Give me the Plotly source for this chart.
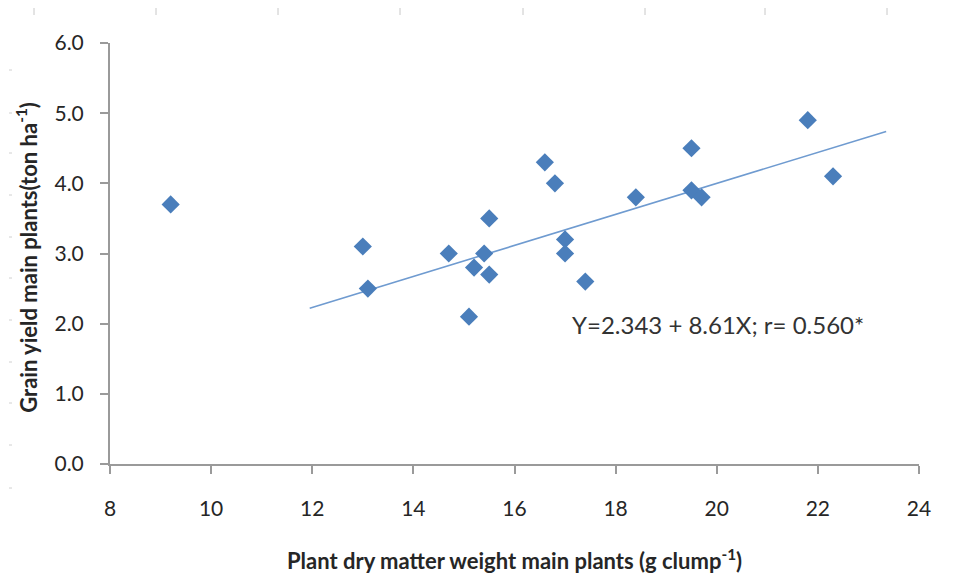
import plotly.graph_objects as go

# Data
dry_matter = [9.2, 13.0, 13.1, 14.7, 15.1, 15.2, 15.4, 15.5, 15.5, 16.6,
              16.8, 17.0, 17.0, 17.4, 18.4, 19.5, 19.5, 19.7, 21.8, 22.3]
grain_yield = [3.7, 3.1, 2.5, 3.0, 2.1, 2.8, 3.0, 2.7, 3.5, 4.3,
               4.0, 3.2, 3.0, 2.6, 3.8, 4.5, 3.9, 3.8, 4.9, 4.1]
trend_x = [11.95, 23.35]
trend_y = [2.22, 4.74]
x_ticks = [8, 10, 12, 14, 16, 18, 20, 22, 24]
y_ticks = [0.0, 1.0, 2.0, 3.0, 4.0, 5.0, 6.0]
equation_text = "Y=2.343 + 8.61X; r= 0.560*"

BLUE = "#4A7EBB"
AXIS = "#9A9A9A"
FONT = "Lato"
TXT = "#262626"

fig = go.Figure()
fig.add_trace(go.Scatter(
    x=trend_x, y=trend_y, mode="lines",
    line=dict(color="#6F9BD0", width=1.6), hoverinfo="skip", showlegend=False))
fig.add_trace(go.Scatter(
    x=dry_matter, y=grain_yield, mode="markers",
    marker=dict(symbol="diamond", size=14, color=BLUE, line=dict(width=0)),
    showlegend=False))

# page body has an 8px offset, so the figure is sized to fit the window
fig.update_layout(
    width=951, height=570,
    margin=dict(l=102, r=40, t=35, b=114),
    paper_bgcolor="white", plot_bgcolor="white",
    font=dict(family=FONT, color=TXT),
    showlegend=False,
)
fig.update_xaxes(
    range=[8, 24], tickvals=x_ticks, ticktext=[str(v) for v in x_ticks],
    showgrid=False, zeroline=False, showline=True, linecolor=AXIS, linewidth=2,
    ticks="outside", ticklen=8, tickwidth=2, tickcolor=AXIS,
    tickfont=dict(size=21, family=FONT, color=TXT),
    ticklabelstandoff=17,
)
fig.update_yaxes(
    range=[0, 6], tickvals=y_ticks, ticktext=[f"{v:.1f}" for v in y_ticks],
    showgrid=False, zeroline=False, showline=True, linecolor=AXIS, linewidth=2,
    ticks="outside", ticklen=8, tickwidth=2, tickcolor=AXIS,
    tickfont=dict(size=21, family=FONT, color=TXT),
    ticklabelstandoff=12,
)

fig.add_annotation(
    text="<b>Plant dry matter weight main plants (g clump<sup>-1</sup>)</b>",
    xref="paper", yref="paper", x=0.5, y=0, yshift=-95,
    xanchor="center", yanchor="middle", showarrow=False,
    font=dict(size=22, family=FONT, color=TXT))
fig.add_annotation(
    text="<b>Grain yield main plants(ton ha<sup>-1</sup>)</b>",
    xref="paper", yref="paper", x=0, xshift=-83, y=0.49,
    xanchor="center", yanchor="middle", textangle=-90, showarrow=False,
    font=dict(size=22, family=FONT, color=TXT))
fig.add_annotation(
    text=equation_text, xref="paper", yref="paper",
    x=(718 - 110) / 809, y=(464 - 324) / 421,
    xanchor="center", yanchor="middle", showarrow=False,
    font=dict(size=24, family=FONT, color="#333333"))

# faint scan marks at the page edges
for px in [34, 156, 278, 400, 523, 645, 765, 887]:
    fig.add_shape(type="line", xref="paper", yref="paper",
                  x0=(px - 110) / 809, x1=(px - 110) / 809,
                  y0=(464 - 8) / 421, y1=(464 - 15) / 421,
                  line=dict(color="#C8C8C8", width=1))
for py in [70, 113, 153, 195, 237, 278, 320, 362, 403, 445, 488]:
    fig.add_shape(type="line", xref="paper", yref="paper",
                  x0=(9 - 110) / 809, x1=(12 - 110) / 809,
                  y0=(464 - py) / 421, y1=(464 - py) / 421,
                  line=dict(color="#D0D0D0", width=1))

fig.write_html("out.html")
